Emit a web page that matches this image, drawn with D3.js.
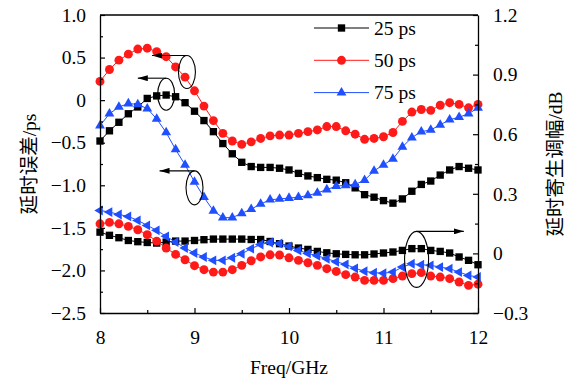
<!DOCTYPE html>
<html>
<head>
<meta charset="utf-8">
<script src="https://cdn.jsdelivr.net/npm/d3@7"></script>
<style>
  body { margin: 0; background: #fff; }
  svg text { font-family: "Liberation Serif", "Times New Roman", "Noto Sans CJK SC", serif; }
</style>
</head>
<body>
<div id="chart"></div>
<script>
// frequency points (GHz)
const freq = [8.0, 8.1, 8.2, 8.3, 8.4, 8.5, 8.6, 8.7, 8.8, 8.9, 9.0,
              9.1, 9.2, 9.3, 9.4, 9.5, 9.6, 9.7, 9.8, 9.9, 10.0,
              10.1, 10.2, 10.3, 10.4, 10.5, 10.6, 10.7, 10.8, 10.9, 11.0,
              11.1, 11.2, 11.3, 11.4, 11.5, 11.6, 11.7, 11.8, 11.9, 12.0];

// delay error (ps), left axis
const delay25 = [-0.48, -0.36, -0.26, -0.16, -0.08, 0.02, 0.05, 0.06, 0.04, -0.03, -0.13,
                 -0.24, -0.37, -0.51, -0.63, -0.73, -0.78, -0.79, -0.79, -0.80, -0.82,
                 -0.86, -0.89, -0.91, -0.93, -0.94, -0.97, -1.03, -1.11, -1.14, -1.18,
                 -1.21, -1.16, -1.07, -0.99, -0.95, -0.88, -0.82, -0.78, -0.80, -0.82];
const delay50 = [0.22, 0.36, 0.47, 0.54, 0.60, 0.61, 0.57, 0.51, 0.39, 0.27, 0.11,
                 -0.07, -0.24, -0.39, -0.48, -0.52, -0.49, -0.45, -0.42, -0.41, -0.41,
                 -0.39, -0.37, -0.35, -0.31, -0.31, -0.36, -0.40, -0.46, -0.45, -0.43,
                 -0.38, -0.25, -0.14, -0.11, -0.12, -0.06, -0.03, -0.05, -0.09, -0.05];
const delay75 = [-0.30, -0.16, -0.08, -0.04, -0.05, -0.10, -0.22, -0.38, -0.58, -0.76, -0.96,
                 -1.14, -1.30, -1.38, -1.38, -1.33, -1.28, -1.22, -1.17, -1.16, -1.15,
                 -1.14, -1.12, -1.09, -1.05, -1.01, -1.00, -0.99, -0.94, -0.83, -0.76,
                 -0.69, -0.55, -0.44, -0.37, -0.35, -0.29, -0.23, -0.20, -0.16, -0.09];

// parasitic amplitude (dB), right axis
const amp25 = [0.107, 0.091, 0.079, 0.065, 0.059, 0.055, 0.052, 0.057, 0.062, 0.062, 0.065,
               0.069, 0.072, 0.072, 0.072, 0.072, 0.070, 0.070, 0.060, 0.049, 0.037,
               0.027, 0.020, 0.010, 0.003, -0.002, -0.005, -0.007, -0.007, -0.003, 0.002,
               0.007, 0.015, 0.024, 0.024, 0.015, 0.010, 0.002, -0.018, -0.035, -0.057];
const amp50 = [0.149, 0.156, 0.149, 0.136, 0.119, 0.094, 0.062, 0.027, -0.005, -0.032, -0.062,
               -0.082, -0.094, -0.094, -0.082, -0.060, -0.037, -0.018, -0.007, -0.008, -0.022,
               -0.035, -0.047, -0.060, -0.077, -0.091, -0.107, -0.119, -0.136, -0.136, -0.136,
               -0.127, -0.114, -0.102, -0.097, -0.114, -0.119, -0.127, -0.144, -0.161, -0.155];
const amp75 = [0.216, 0.208, 0.196, 0.186, 0.166, 0.141, 0.116, 0.086, 0.057, 0.027, 0.002,
               -0.018, -0.035, -0.035, -0.022, -0.002, 0.024, 0.045, 0.055, 0.050, 0.035,
               0.015, 0.000, -0.012, -0.027, -0.042, -0.055, -0.075, -0.090, -0.097, -0.100,
               -0.094, -0.069, -0.052, -0.057, -0.060, -0.069, -0.077, -0.094, -0.111, -0.119];

// ticks and labels
const xTicks = [8, 9, 10, 11, 12];
const xMinor = [8.5, 9.5, 10.5, 11.5];
const leftTicks = [1.0, 0.5, 0, -0.5, -1.0, -1.5, -2.0, -2.5];
const leftLabels = ["1.0", "0.5", "0", "\u22120.5", "\u22121.0", "\u22121.5", "\u22122.0", "\u22122.5"];
const leftMinor = [0.75, 0.25, -0.25, -0.75, -1.25, -1.75, -2.25];
const rightTicks = [1.2, 0.9, 0.6, 0.3, 0, -0.3];
const rightLabels = ["1.2", "0.9", "0.6", "0.3", "0", "\u22120.3"];
const rightMinor = [1.05, 0.75, 0.45, 0.15, -0.15];
const seriesNames = ["25 ps", "50 ps", "75 ps"];
const colors = ["#000000", "#ff1a1a", "#1f4fff"];

const width = 569, height = 382;
const margin = {top: 15, right: 91, bottom: 69, left: 100};

const svg = d3.select("#chart").append("svg")
    .attr("width", width)
    .attr("height", height);

const x = d3.scaleLinear().domain([8, 12]).range([margin.left, width - margin.right]);
const yL = d3.scaleLinear().domain([-2.5, 1.0]).range([height - margin.bottom, margin.top]);
const yR = d3.scaleLinear().domain([-0.3, 1.2]).range([height - margin.bottom, margin.top]);

// arrow head
svg.append("defs").append("marker")
    .attr("id", "arrow")
    .attr("viewBox", "0 0 10 6")
    .attr("refX", 10).attr("refY", 3)
    .attr("markerWidth", 10).attr("markerHeight", 6)
    .attr("markerUnits", "userSpaceOnUse")
    .attr("orient", "auto")
    .append("path").attr("d", "M0,0 L10,3 L0,6 Z").attr("fill", "#000");

// marker shapes per series
const symSquare = {sym: d3.symbolSquare, size: 54};
const symCircle = {sym: d3.symbolCircle, size: 62};
const symTri = {sym: d3.symbolTriangle, size: 42};

// series definitions: which axis, which symbol
const series = [
    {vals: delay25, y: yL, c: 0, m: symSquare, rot: 0},
    {vals: delay50, y: yL, c: 1, m: symCircle, rot: 0},
    {vals: delay75, y: yL, c: 2, m: symTri, rot: 0},
    {vals: amp25, y: yR, c: 0, m: symSquare, rot: 0},
    {vals: amp50, y: yR, c: 1, m: symCircle, rot: 0},
    {vals: amp75, y: yR, c: 2, m: symTri, rot: -90}
];

series.forEach(s => {
    const pts = freq.map((f, i) => [f, s.vals[i]]);
    const line = d3.line().x(d => x(d[0])).y(d => s.y(d[1]));
    svg.append("path")
        .attr("d", line(pts))
        .attr("fill", "none")
        .attr("stroke", colors[s.c])
        .attr("stroke-width", 1);
    svg.append("g").selectAll("path")
        .data(pts)
        .enter().append("path")
        .attr("d", d3.symbol().type(s.m.sym).size(s.m.size))
        .attr("transform", d => `translate(${x(d[0])},${s.y(d[1])}) rotate(${s.rot})`)
        .attr("fill", colors[s.c]);
});

// axes
const fs = 19.5;
function styleAxis(g) {
    g.attr("font-family", null);
    g.select(".domain").attr("stroke", "#000").attr("stroke-width", 1.3);
    g.selectAll(".tick line").attr("stroke", "#000").attr("stroke-width", 1.2);
    g.selectAll("text").attr("font-size", fs).attr("fill", "#000");
}

const bottomAxis = svg.append("g")
    .attr("transform", `translate(0,${height - margin.bottom})`)
    .call(d3.axisBottom(x).tickValues(xTicks).tickFormat(d3.format("d"))
        .tickSize(-5).tickSizeOuter(0).tickPadding(17));
styleAxis(bottomAxis);
svg.append("g")
    .attr("transform", `translate(0,${height - margin.bottom})`)
    .call(d3.axisBottom(x).tickValues(xMinor).tickFormat("").tickSize(-3).tickSizeOuter(0))
    .call(styleAxis).select(".domain").remove();

const leftAxis = svg.append("g")
    .attr("transform", `translate(${margin.left},0)`)
    .call(d3.axisLeft(yL).tickValues(leftTicks).tickFormat((d, i) => leftLabels[i])
        .tickSize(-5).tickSizeOuter(0).tickPadding(14));
styleAxis(leftAxis);
svg.append("g")
    .attr("transform", `translate(${margin.left},0)`)
    .call(d3.axisLeft(yL).tickValues(leftMinor).tickFormat("").tickSize(-3).tickSizeOuter(0))
    .call(styleAxis).select(".domain").remove();

const rightAxis = svg.append("g")
    .attr("transform", `translate(${width - margin.right},0)`)
    .call(d3.axisRight(yR).tickValues(rightTicks).tickFormat((d, i) => rightLabels[i])
        .tickSize(-5).tickSizeOuter(0).tickPadding(15));
styleAxis(rightAxis);
svg.append("g")
    .attr("transform", `translate(${width - margin.right},0)`)
    .call(d3.axisRight(yR).tickValues(rightMinor).tickFormat("").tickSize(-3).tickSizeOuter(0))
    .call(styleAxis).select(".domain").remove();

// top frame line
svg.append("line")
    .attr("x1", margin.left).attr("x2", width - margin.right)
    .attr("y1", margin.top).attr("y2", margin.top)
    .attr("stroke", "#000").attr("stroke-width", 1.3);

// axis titles
svg.append("text")
    .attr("x", (margin.left + width - margin.right) / 2)
    .attr("y", 374)
    .attr("text-anchor", "middle")
    .attr("font-size", fs)
    .text("Freq/GHz");

svg.append("text")
    .attr("transform", `translate(29,${(margin.top + height - margin.bottom) / 2}) rotate(-90)`)
    .attr("text-anchor", "middle")
    .attr("dominant-baseline", "central")
    .attr("font-size", fs)
    .text("延时误差/ps");

svg.append("text")
    .attr("transform", `translate(555,${(margin.top + height - margin.bottom) / 2}) rotate(-90)`)
    .attr("text-anchor", "middle")
    .attr("dominant-baseline", "central")
    .attr("font-size", fs)
    .text("延时寄生调幅/dB");

// legend
const legendSyms = [symSquare, symCircle, symTri];
const lg = svg.append("g");
seriesNames.forEach((name, i) => {
    const ly = 28 + i * 32.3;
    lg.append("line")
        .attr("x1", 314).attr("x2", 369).attr("y1", ly).attr("y2", ly)
        .attr("stroke", colors[i]).attr("stroke-width", 1);
    lg.append("path")
        .attr("d", d3.symbol().type(legendSyms[i].sym).size(legendSyms[i].size))
        .attr("transform", `translate(341.5,${ly})`)
        .attr("fill", colors[i]);
    lg.append("text")
        .attr("x", 374).attr("y", ly)
        .attr("dy", "0.35em")
        .attr("font-size", fs)
        .text(name);
});

// annotation ellipses with arrows pointing to the axis each group belongs to
const notes = [
    {f: 8.92, v: 0.33, ax: yL, rx: 8.5, ry: 16.5, toF: 8.55},
    {f: 8.7, v: 0.07, ax: yL, rx: 8.5, ry: 16, toF: 8.4},
    {f: 9.0, v: -1.03, ax: yL, rx: 8.5, ry: 17, toF: 8.63},
    {f: 11.35, v: -0.03, ax: yR, rx: 12, ry: 28, toF: 11.85}
];
notes.forEach(n => {
    const cx = x(n.f), cy = n.ax(n.v);
    svg.append("ellipse")
        .attr("cx", cx).attr("cy", cy)
        .attr("rx", n.rx).attr("ry", n.ry)
        .attr("fill", "none").attr("stroke", "#000").attr("stroke-width", 1.1);
    svg.append("line")
        .attr("x1", cx).attr("y1", cy - n.ry)
        .attr("x2", x(n.toF)).attr("y2", cy - n.ry)
        .attr("stroke", "#000").attr("stroke-width", 1.1)
        .attr("marker-end", "url(#arrow)");
});
</script>
</body>
</html>
